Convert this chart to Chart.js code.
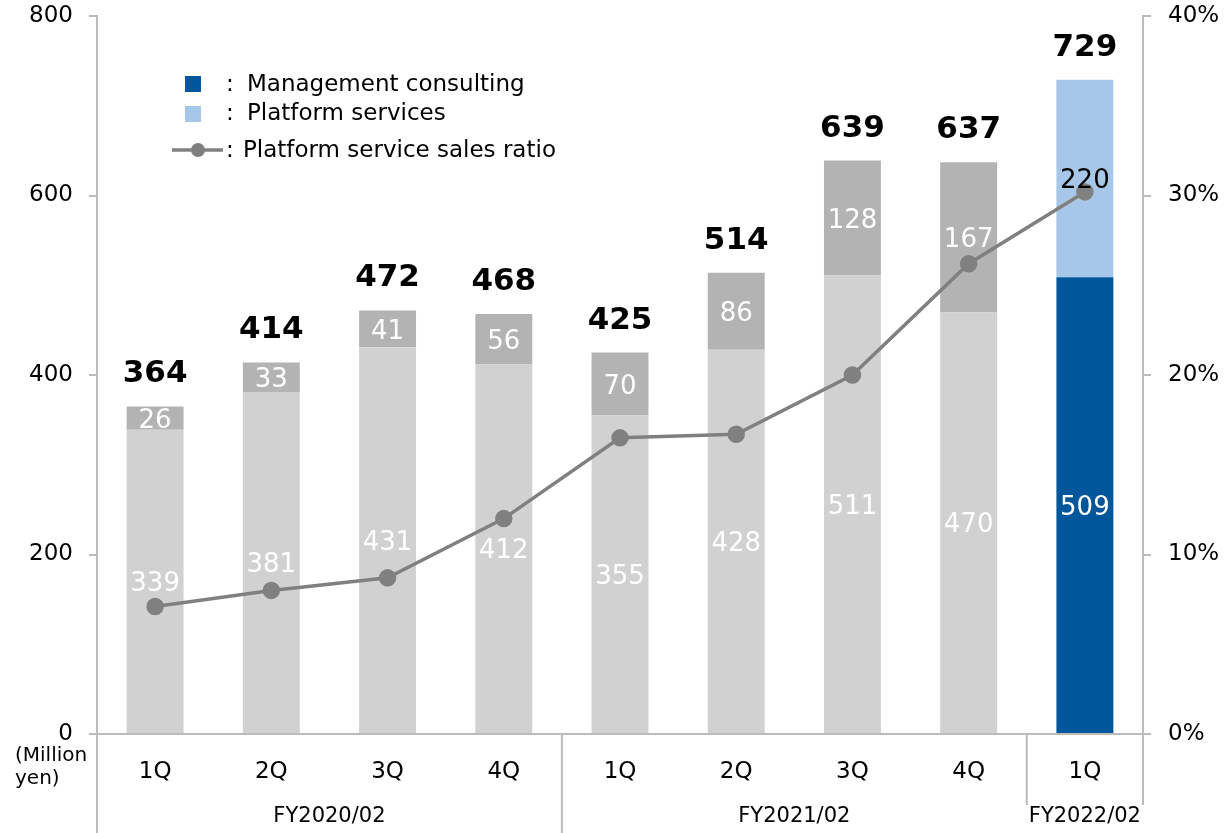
<!DOCTYPE html>
<html>
<head>
<meta charset="utf-8">
<script src="https://cdn.jsdelivr.net/npm/chart.js@4"></script>
<style>
  html, body { margin: 0; padding: 0; background: #fff; }
  #wrap { position: relative; width: 1231px; height: 833px; }
</style>
</head>
<body>
<div id="wrap"><canvas id="salesChart"></canvas></div>
<script>
// --- data ---
const quarters = ['1Q', '2Q', '3Q', '4Q', '1Q', '2Q', '3Q', '4Q', '1Q'];
const fiscalYears = [
  { label: 'FY2020/02', from: 0, to: 3 },
  { label: 'FY2021/02', from: 4, to: 7 },
  { label: 'FY2022/02', from: 8, to: 8 }
];
const consulting = [339, 381, 431, 412, 355, 428, 511, 470, 509];
const platform = [26, 33, 41, 56, 70, 86, 128, 167, 220];
const totals = [364, 414, 472, 468, 425, 514, 639, 637, 729];
const platformRatio = [7.1, 8.0, 8.7, 12.0, 16.5, 16.7, 20.0, 26.2, 30.2];
const leftTicks = [0, 200, 400, 600, 800];
const rightTicks = [0, 10, 20, 30, 40];

const FONT = "'DejaVu Sans', Verdana, sans-serif";
const AXIS_GRAY = '#bcbcbc';

const consultingColors = consulting.map((v, i) => i === consulting.length - 1 ? '#00569B' : '#D1D1D1');
const platformColors = platform.map((v, i) => i === platform.length - 1 ? '#A6C7E7' : '#B3B3B3');

const barLabels = {
  id: 'barLabels',
  afterDatasetsDraw(chart) {
    const ctx = chart.ctx;
    ctx.save();
    ctx.textAlign = 'center';
    ctx.textBaseline = 'middle';

    // values inside the stacked segments
    [0, 1].forEach(di => {
      const meta = chart.getDatasetMeta(di);
      const values = chart.data.datasets[di].data;
      meta.data.forEach((bar, i) => {
        const last = i === values.length - 1;
        ctx.font = '26px ' + FONT;
        ctx.fillStyle = (di === 1 && last) ? '#000' : '#fff';
        ctx.fillText(values[i], bar.x, (bar.y + bar.base) / 2 + 3);
      });
    });

    // totals above the bars
    const top = chart.getDatasetMeta(1);
    ctx.font = 'bold 31px ' + FONT;
    ctx.fillStyle = '#000';
    top.data.forEach((bar, i) => {
      ctx.fillText(totals[i], bar.x, bar.y - 32);
    });
    ctx.restore();
  },

  afterDraw(chart) {
    const ctx = chart.ctx;
    const x = chart.scales.x;
    const area = chart.chartArea;
    const H = chart.height;
    ctx.save();

    // fiscal year separators and labels under the axis
    const half = (x.getPixelForValue(1) - x.getPixelForValue(0)) / 2;
    ctx.strokeStyle = AXIS_GRAY;
    ctx.lineWidth = 2;
    fiscalYears.forEach((fy, k) => {
      const left = x.getPixelForValue(fy.from) - half;
      const right = x.getPixelForValue(fy.to) + half;
      const isLast = k === fiscalYears.length - 1;
      ctx.beginPath();
      ctx.moveTo(left, area.bottom);
      ctx.lineTo(left, isLast ? area.bottom + 71 : H);
      if (isLast) {
        ctx.moveTo(right, area.bottom);
        ctx.lineTo(right, area.bottom + 71);
      }
      ctx.stroke();
      ctx.font = '21px ' + FONT;
      ctx.fillStyle = '#000';
      ctx.textAlign = 'center';
      ctx.textBaseline = 'middle';
      ctx.fillText(fy.label, (left + right) / 2, 817);
    });

    // unit label
    ctx.font = '20px ' + FONT;
    ctx.textAlign = 'left';
    ctx.fillText('(Million', 15, 756);
    ctx.fillText('yen)', 15, 779);

    // legend
    ctx.font = '23px ' + FONT;
    ctx.fillStyle = '#00569B';
    ctx.fillRect(185, 76, 16, 16);
    ctx.fillStyle = '#A6C7E7';
    ctx.fillRect(185, 106, 16, 16);
    ctx.fillStyle = '#000';
    ctx.fillText(':', 226, 85);
    ctx.fillText('Management consulting', 247, 85);
    ctx.fillText(':', 226, 114);
    ctx.fillText('Platform services', 247, 114);

    ctx.strokeStyle = '#808080';
    ctx.lineWidth = 3.5;
    ctx.beginPath();
    ctx.moveTo(172, 150);
    ctx.lineTo(223, 150);
    ctx.stroke();
    ctx.fillStyle = '#808080';
    ctx.beginPath();
    ctx.arc(198, 150, 7, 0, Math.PI * 2);
    ctx.fill();
    ctx.fillStyle = '#000';
    ctx.fillText(':', 226, 151);
    ctx.fillText('Platform service sales ratio', 243, 151);
    ctx.restore();
  }
};

// fixed axis box sizes so the plot area lands where the reference has it
function fitY(width) {
  return s => {
    s.width = width;
    s.paddingTop = 0;
    s.paddingBottom = 0;
  };
}

new Chart(document.getElementById('salesChart'), {
  data: {
    labels: quarters,
    datasets: [
      {
        type: 'bar',
        label: 'Management consulting',
        data: consulting,
        backgroundColor: consultingColors,
        yAxisID: 'y',
        stack: 'sales',
        order: 2,
        barPercentage: 0.49,
        categoryPercentage: 1
      },
      {
        type: 'bar',
        label: 'Platform services',
        data: platform,
        backgroundColor: platformColors,
        yAxisID: 'y',
        stack: 'sales',
        order: 2,
        barPercentage: 0.49,
        categoryPercentage: 1
      },
      {
        type: 'line',
        label: 'Platform service sales ratio',
        data: platformRatio,
        yAxisID: 'y1',
        borderColor: '#808080',
        borderWidth: 3.5,
        pointRadius: 7,
        pointBackgroundColor: '#808080',
        pointBorderColor: '#808080',
        tension: 0,
        order: 1
      }
    ]
  },
  options: {
    responsive: true,
    maintainAspectRatio: false,
    animation: false,
    layout: { padding: { top: 16, left: 0, right: 0, bottom: 0 } },
    plugins: { legend: { display: false }, tooltip: { enabled: false } },
    scales: {
      x: {
        stacked: true,
        grid: { display: false, drawTicks: false },
        border: { display: true, color: AXIS_GRAY, width: 2 },
        ticks: { color: '#000', font: { family: FONT, size: 23 }, padding: 24, maxRotation: 0 },
        afterFit(s) { s.height = 99; s.paddingLeft = 0; s.paddingRight = 0; }
      },
      y: {
        position: 'left',
        stacked: true,
        min: 0,
        max: 800,
        afterBuildTicks(s) { s.ticks = leftTicks.map(v => ({ value: v })); },
        grid: { drawOnChartArea: false, drawTicks: true, tickLength: 8, color: AXIS_GRAY, lineWidth: 2 },
        border: { display: true, color: AXIS_GRAY, width: 2 },
        ticks: { color: '#000', font: { family: FONT, size: 23 }, padding: 16 },
        afterFit: fitY(97)
      },
      y1: {
        position: 'right',
        min: 0,
        max: 40,
        afterBuildTicks(s) { s.ticks = rightTicks.map(v => ({ value: v })); },
        grid: { drawOnChartArea: false, drawTicks: true, tickLength: 8, color: AXIS_GRAY, lineWidth: 2 },
        border: { display: true, color: AXIS_GRAY, width: 2 },
        ticks: { color: '#000', font: { family: FONT, size: 23 }, padding: 17, callback: v => v + '%' },
        afterFit: fitY(88)
      }
    }
  },
  plugins: [barLabels]
});
</script>
</body>
</html>
